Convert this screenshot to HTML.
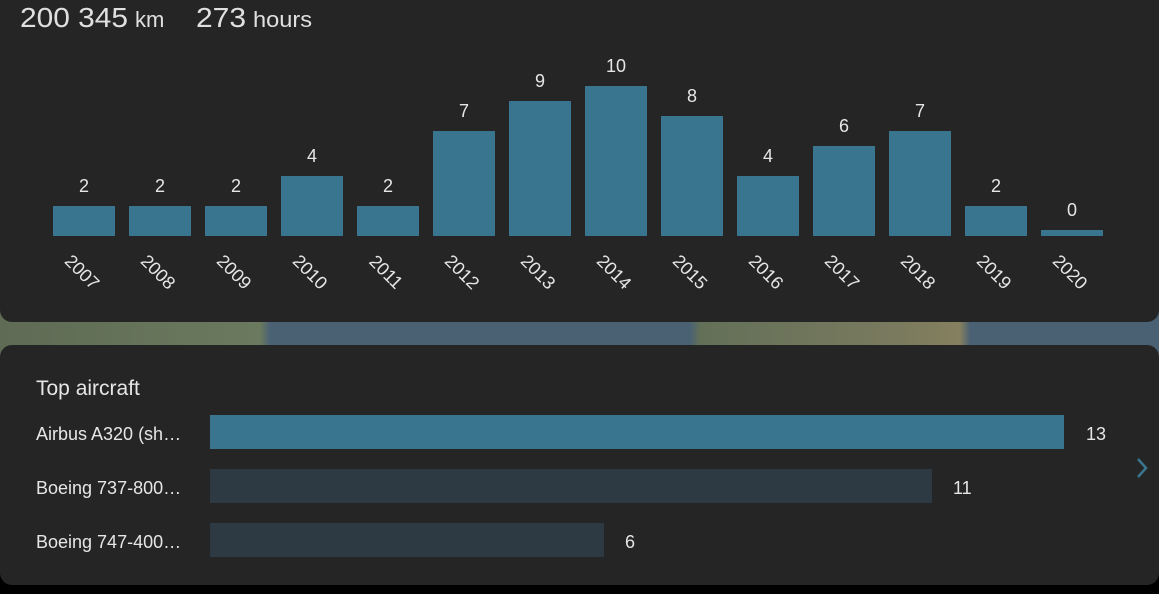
<!DOCTYPE html>
<html><head><style>
body{margin:0;width:1159px;height:594px;background:#000;overflow:hidden;font-family:"Liberation Sans",sans-serif;position:relative}
.map{position:absolute;left:0;top:300px;width:1159px;height:60px;background:linear-gradient(90deg,#5f6b55 0,#6b7a5e 260px,#4a6173 270px,#4a6173 690px,#637058 700px,#7a7a5e 900px,#85805f 960px,#4a6173 970px)}
.card1{position:absolute;left:0;top:-20px;width:1159px;height:342px;background:#252525;border-radius:12px}
.card2{position:absolute;left:0;top:345px;width:1159px;height:240px;background:#252525;border-radius:12px}
</style></head><body>
<div class="map"></div>
<div class="card1"></div>
<div class="card2"></div>
<svg width="1159" height="594" style="position:absolute;left:0;top:0" font-family="Liberation Sans, sans-serif">
<text x="20" y="27" fill="#e0e0e0" font-size="28" textLength="108" lengthAdjust="spacingAndGlyphs">200 345</text>
<text x="135" y="27" fill="#e0e0e0" font-size="22">km</text>
<text x="196" y="27" fill="#e0e0e0" font-size="28" textLength="50" lengthAdjust="spacingAndGlyphs">273</text>
<text x="253" y="27" fill="#e0e0e0" font-size="22" textLength="59" lengthAdjust="spacingAndGlyphs">hours</text>
<g fill="#3a7590" id="b"></g>
<g id="l" fill="#e6e6e6" font-size="18" text-anchor="middle"></g>
<text x="36" y="395" fill="#e6e6e6" font-size="21">Top aircraft</text>
<g font-size="18" fill="#e6e6e6">
<text x="36" y="440">Airbus A320 (sh…</text>
<text x="36" y="494">Boeing 737-800…</text>
<text x="36" y="548">Boeing 747-400…</text>
<text x="1086" y="440">13</text>
<text x="953" y="494">11</text>
<text x="625" y="548">6</text>
</g>
<rect x="210" y="415" width="854" height="34" fill="#3a7590"/>
<rect x="210" y="469" width="722" height="34" fill="#2d3a43"/>
<rect x="210" y="523" width="394" height="34" fill="#2d3a43"/>
<path d="M1138 459 L1146 468 L1138 477" stroke="#3a7590" stroke-width="2.5" fill="none"/>
</svg>
<script>
var v=[2,2,2,4,2,7,9,10,8,4,6,7,2,0],b='',l='';
v.forEach(function(n,i){var x=53+i*76,h=n?n*15:6,t=236-h;
b+='<rect x="'+x+'" y="'+t+'" width="62" height="'+h+'"/>';
l+='<text x="'+(x+31)+'" y="'+(t-14)+'">'+n+'</text>';
var cx=x+29,cy=272;l+='<text x="'+cx+'" y="'+(cy+6)+'" transform="rotate(45 '+cx+' '+cy+')">'+(2007+i)+'</text>';});
document.getElementById('b').innerHTML=b;document.getElementById('l').innerHTML=l;
</script>
</body></html>
